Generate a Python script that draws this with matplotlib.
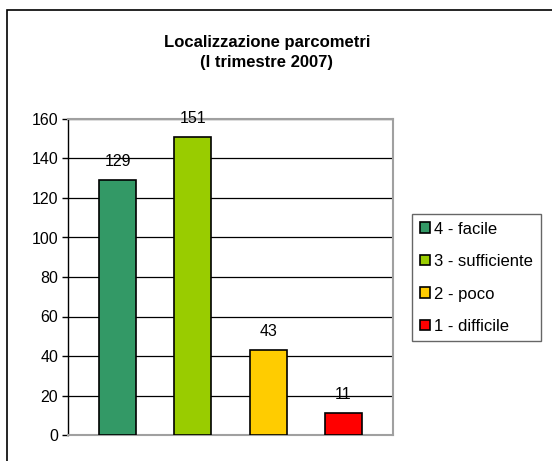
import matplotlib.pyplot as plt
from matplotlib.patches import Rectangle

plt.rcParams['font.family'] = ['Liberation Sans', 'DejaVu Sans']

categorie = ["4 - facile", "3 - sufficiente", "2 - poco", "1 - difficile"]
valori = [129, 151, 43, 11]
colori = ["#339966", "#99CC00", "#FFCC00", "#FF0000"]
yticks = [0, 20, 40, 60, 80, 100, 120, 140, 160]

fig = plt.figure(figsize=(5.52, 4.61), dpi=100)
# cornice del grafico (esce dall'immagine a destra e in basso)
fig.patches.append(Rectangle((7 / 552, -0.1), 1.2, 1 - 10 / 461 + 0.1,
                             transform=fig.transFigure, fill=False,
                             edgecolor="black", linewidth=1.2))

ax = fig.add_axes([68 / 552, 1 - 435 / 461, 325 / 552, 316 / 461])
for i in range(len(valori)):
    ax.bar(i, valori[i], width=0.49, color=colori[i], edgecolor="black",
           linewidth=1.2, label=categorie[i], zorder=3)
    ax.annotate(str(valori[i]), (i, valori[i]), xytext=(0, 8),
                textcoords="offset points", ha="center", va="bottom",
                fontsize=11.5)

ax.set_xlim(-0.66, 3.66)
ax.set_ylim(0, 160)
ax.set_yticks(yticks)
ax.set_xticks([])
ax.tick_params(axis="y", direction="out", length=4, width=1, labelsize=11.5,
               pad=3)
ax.yaxis.grid(True, color="black", linewidth=0.9, zorder=0)
for s in ["top", "right", "bottom"]:
    ax.spines[s].set_color("#A0A0A0")
    ax.spines[s].set_linewidth(1.5)
ax.spines["left"].set_color("black")
ax.spines["left"].set_linewidth(1)

fig.text(267 / 552, 1 - 43 / 461, "Localizzazione parcometri",
         ha="center", va="center", fontsize=12, fontweight="bold")
fig.text(267 / 552, 1 - 63 / 461, "(I trimestre 2007)",
         ha="center", va="center", fontsize=12, fontweight="bold")

leg = fig.legend(loc="upper left", bbox_to_anchor=(412 / 552, 1 - 214 / 461),
                 fontsize=12, frameon=True, fancybox=False,
                 edgecolor="#404040", handlelength=0.6, handleheight=0.6,
                 handletextpad=0.3, labelspacing=1.05, borderpad=0.45,
                 borderaxespad=0)
leg.get_frame().set_linewidth(1)

fig.savefig("out.png", dpi=100)
